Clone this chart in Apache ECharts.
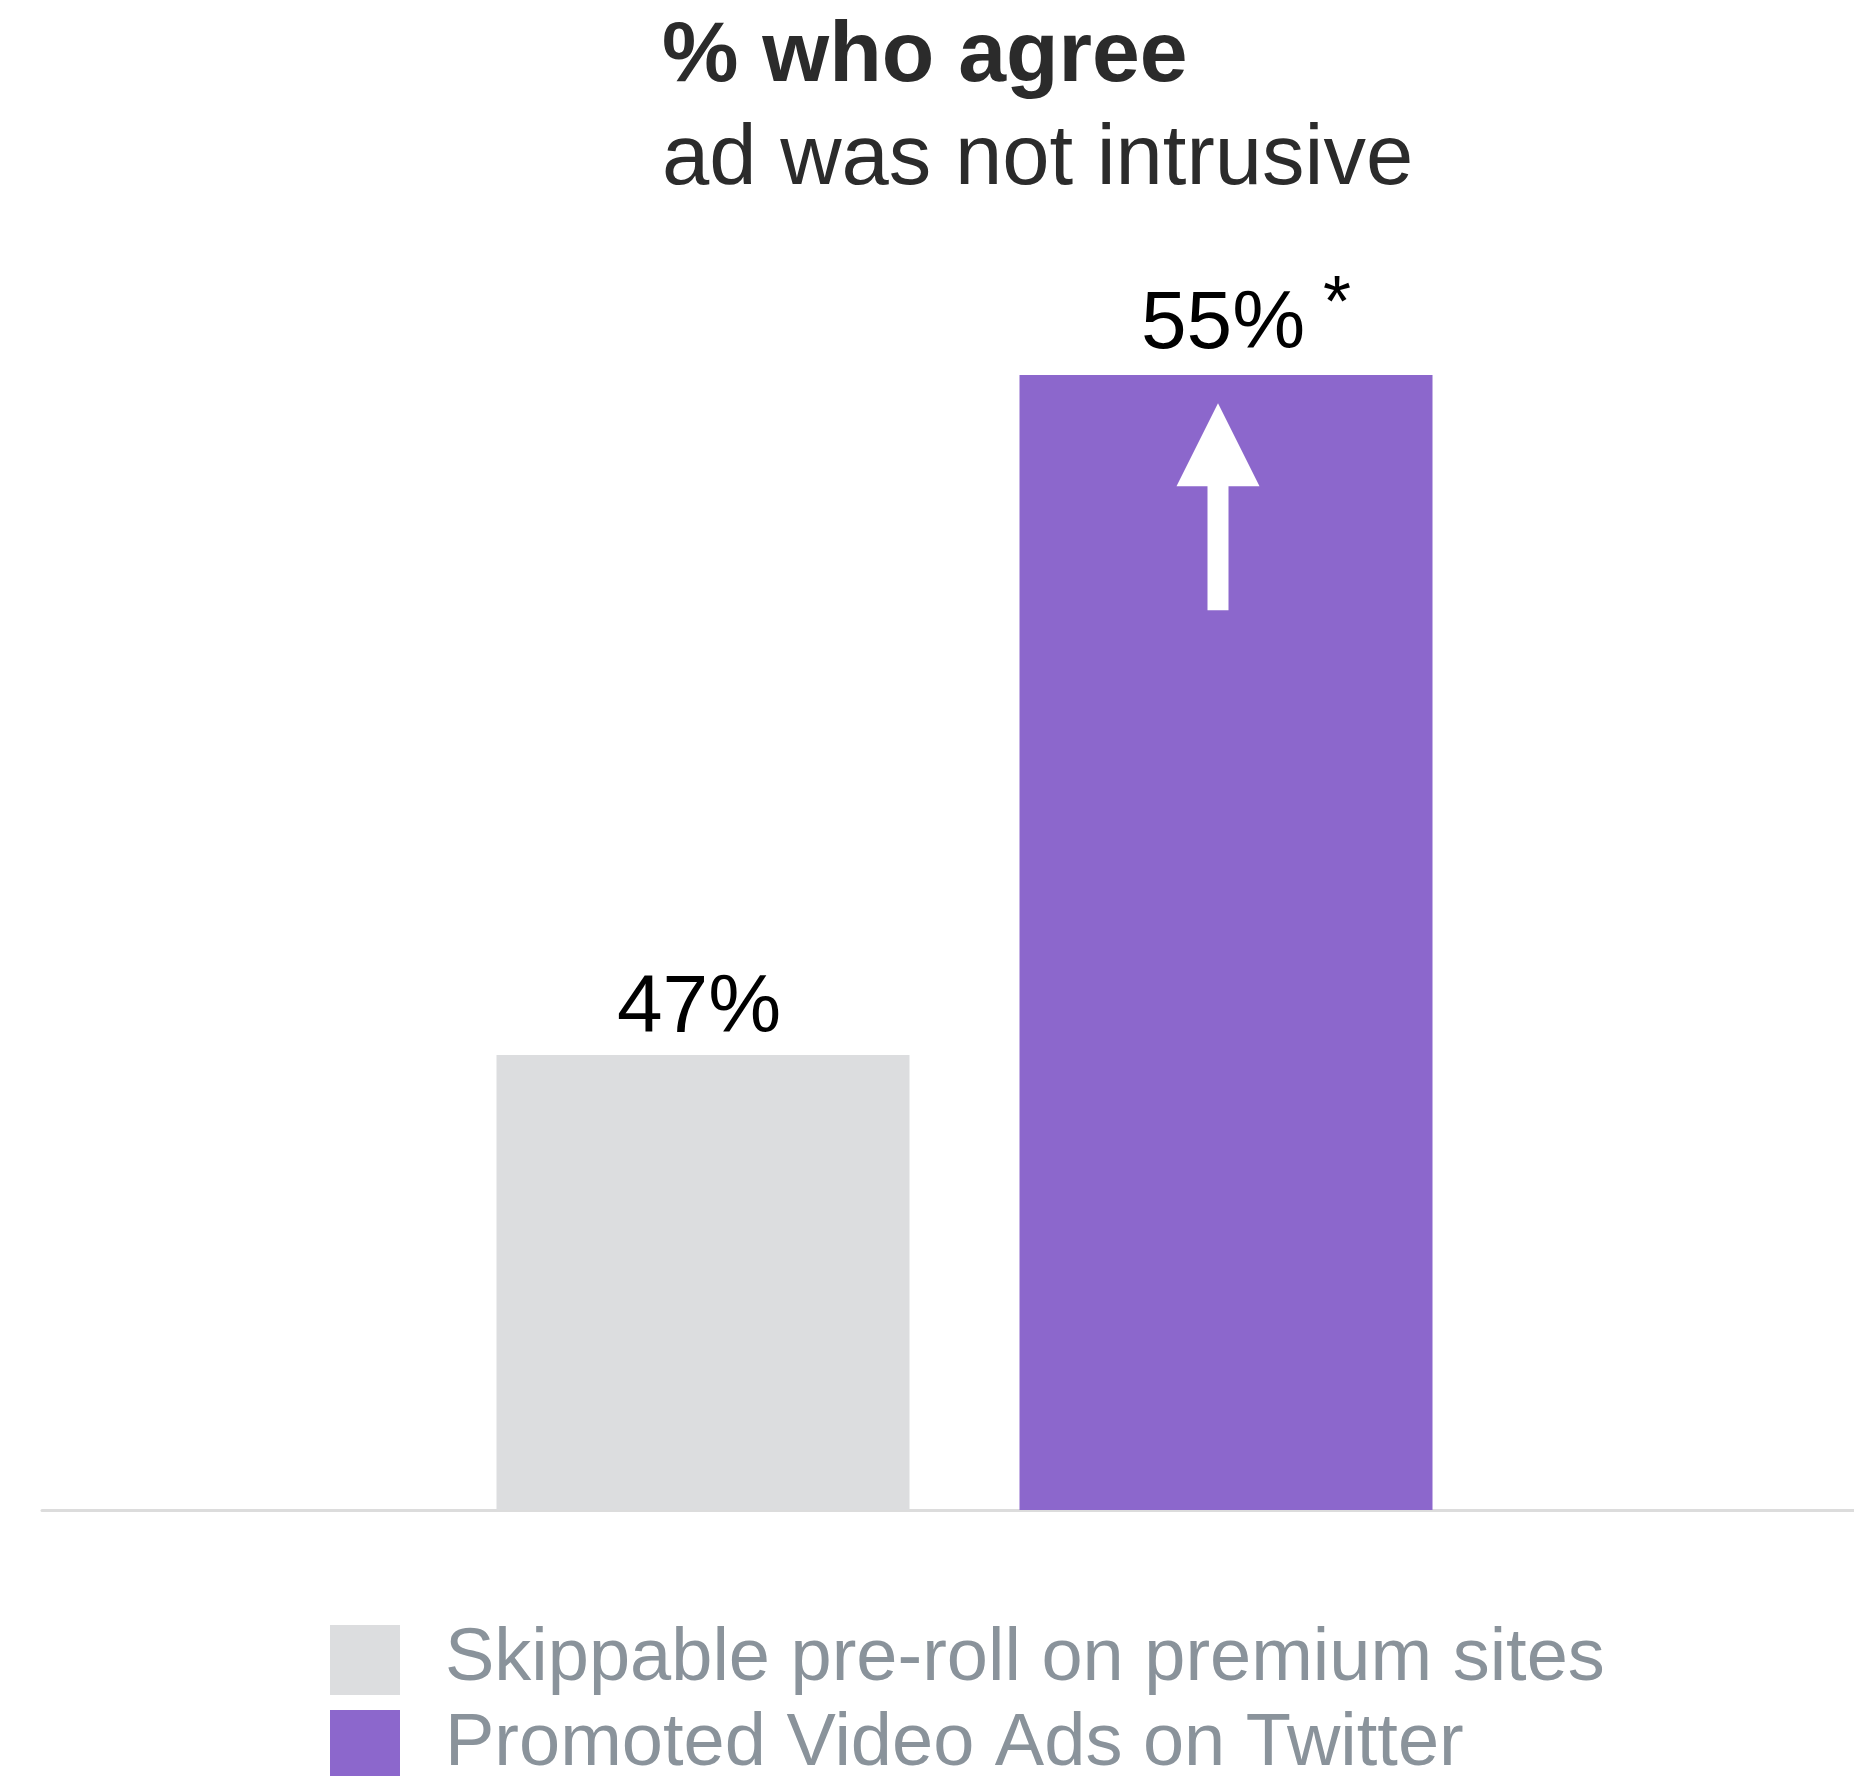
<!DOCTYPE html>
<html>
<head>
<meta charset="utf-8">
<title>% who agree ad was not intrusive</title>
<script src="https://cdn.jsdelivr.net/npm/echarts@6/dist/echarts.min.js"></script>
<style>
  html, body { margin: 0; padding: 0; background: #fff; }
  #chart { width: 1854px; height: 1776px; }
</style>
</head>
<body>
<div id="chart"></div>
<script>
// data
const categories = ['Skippable pre-roll on premium sites', 'Promoted Video Ads on Twitter']
const values = [47, 55]
const valueLabels = ['47%', '55%']
const footnotes = ['', '*']
const barColors = ['#dcdddf', '#8c67cc']
const arrowAt = 53.45 // arrow centre on the Twitter bar

const font = "'Liberation Sans', Arial, Helvetica, sans-serif"
const arrowPath = 'path://M41.5 0L83 83L52 83L52 207L31 207L31 83L0 83Z'

const myChart = echarts.init(document.getElementById('chart'))

const series = categories.map(function(name, i) {
  const data = categories.map(function(c, j) {
    if (j !== i) return null
    return {
      value: values[i],
      label: {
        distance: i === 0 ? 5 : 9,
        offset: i === 0 ? [-4, 0] : [20, 0],
        formatter: footnotes[i] ? '{v|' + valueLabels[i] + '}{s|' + footnotes[i] + '}' : '{v|' + valueLabels[i] + '}',
        rich: {
          v: { fontFamily: font, fontSize: 82, lineHeight: 82, color: '#000' },
          s: { fontFamily: font, fontSize: 72, lineHeight: 12, color: '#000', verticalAlign: 'top', padding: [-14, 0, 0, 18] }
        }
      }
    }
  })
  const s = {
    name: name,
    type: 'bar',
    barWidth: 413,
    barGap: '-100%',
    data: data,
    itemStyle: { color: barColors[i] },
    label: { show: true, position: 'top' },
    z: 2
  }
  if (i === 1) {
    s.markPoint = {
      symbol: arrowPath,
      symbolSize: [83, 207],
      symbolOffset: [-8, 0],
      itemStyle: { color: '#fff' },
      label: { show: false },
      data: [{ coord: [1, arrowAt] }]
    }
  }
  return s
})

const legendBase = {
  orient: 'vertical',
  left: 330,
  padding: 0,
  itemWidth: 70,
  itemHeight: 70,
  icon: 'rect',
  textStyle: {
    fontFamily: font,
    fontSize: 74,
    lineHeight: 70,
    color: '#8a939b',
    padding: [0, 0, 0, 40]
  }
}

const option = {
  backgroundColor: '#fff',
  animation: false,
  title: {
    text: '{b|% who agree}\n{r|ad was not intrusive}',
    left: 662,
    top: 6,
    padding: 0,
    textStyle: {
      rich: {
        b: { fontFamily: font, fontSize: 86, fontWeight: 'bold', color: '#2b2b2b', lineHeight: 103 },
        r: { fontFamily: font, fontSize: 85, fontWeight: 'normal', color: '#2b2b2b', lineHeight: 103 }
      }
    }
  },
  legend: [
    Object.assign({}, legendBase, { top: 1623, data: [categories[0]] }),
    Object.assign({}, legendBase, { top: 1708, data: [categories[1]] })
  ],
  grid: [
    { left: 441.5, right: 366.5, top: 375, bottom: 266, containLabel: false },
    { left: 42, right: 0, top: 375, bottom: 266, containLabel: false }
  ],
  xAxis: [
    {
      type: 'category',
      gridIndex: 0,
      data: categories,
      axisLine: { show: false },
      axisTick: { show: false },
      axisLabel: { show: false },
      splitLine: { show: false }
    },
    {
      type: 'value',
      gridIndex: 1,
      min: 0,
      max: 1,
      axisLine: { show: true, lineStyle: { color: '#dcdcdc', width: 3 } },
      axisTick: { show: false },
      axisLabel: { show: false },
      splitLine: { show: false }
    }
  ],
  yAxis: [
    {
      type: 'value',
      gridIndex: 0,
      min: 41.647,
      max: 55,
      show: false,
      splitLine: { show: false }
    },
    {
      type: 'value',
      gridIndex: 1,
      show: false,
      splitLine: { show: false }
    }
  ],
  series: series
}

myChart.setOption(option)
</script>
</body>
</html>
